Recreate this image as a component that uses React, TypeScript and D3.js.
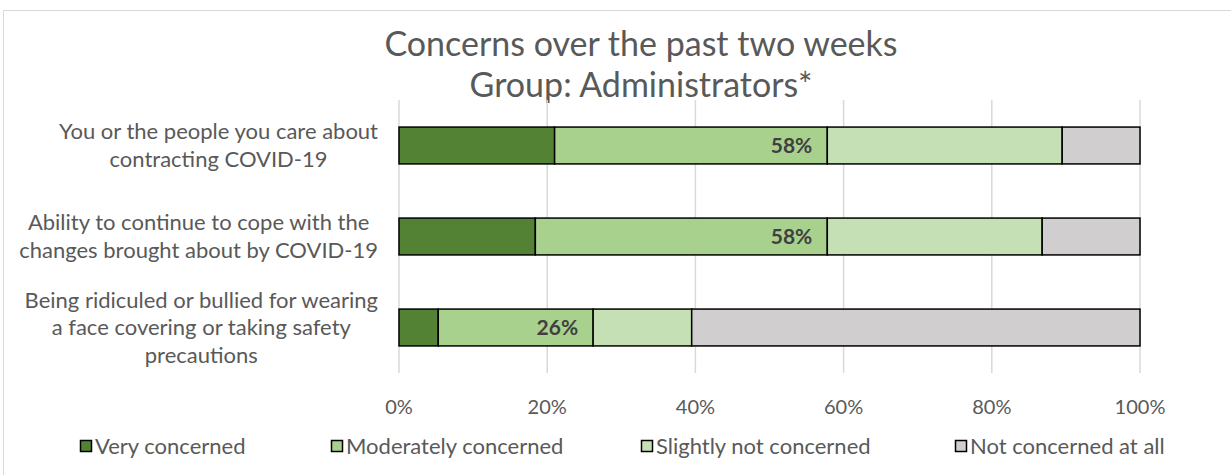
import React from "react";
import * as d3 from "d3";

const categories = [
  ["You or the people you care about", "contracting COVID-19"],
  ["Ability to continue to cope with the", "changes brought about by COVID-19"],
  ["Being ridiculed or bullied for wearing", "a face covering or taking safety", "precautions"],
];
const seriesNames = ["Very concerned", "Moderately concerned", "Slightly not concerned", "Not concerned at all"];
const veryConcerned = [21.0, 18.4, 5.3];
const moderatelyConcerned = [36.8, 39.4, 20.9];
const slightlyNotConcerned = [31.7, 29.0, 13.3];
const notConcerned = [10.5, 13.2, 60.5];
const cumulativeLabels = ["58%", "58%", "26%"];
const xTicks = [0, 20, 40, 60, 80, 100];
const colors = ["#548235", "#A9D18E", "#C5E0B4", "#D0CECE"];

const W = 1231;
const H = 475;
const FONT = "Lato, 'Open Sans', sans-serif";

function CategoryLabel({ lines, cy, right }: { lines: string[]; cy: number; right: number }) {
  const ref = React.useRef<SVGGElement>(null);
  const [shift, setShift] = React.useState(0);
  React.useLayoutEffect(() => {
    if (!ref.current) return;
    const ts = Array.from(ref.current.querySelectorAll("text")) as SVGTextElement[];
    const maxW = d3.max(ts, (t) => t.getComputedTextLength()) || 0;
    setShift(maxW / 2);
  }, []);
  const lh = 27.5;
  return (
    <g ref={ref} transform={`translate(${right - shift},0)`}>
      {lines.map((ln, j) => (
        <text
          key={j}
          x={0}
          y={cy + (j - (lines.length - 1) / 2) * lh}
          dy="0.35em"
          textAnchor="middle"
          fontSize={22}
          fill="#595959"
        >
          {ln}
        </text>
      ))}
    </g>
  );
}

export default function App() {
  const x = d3.scaleLinear().domain([0, 100]).range([399, 1140]);
  const y = d3.scaleBand().domain(["0", "1", "2"]).range([100, 373]).paddingInner(0.595).paddingOuter(0.2975);
  const series = [veryConcerned, moderatelyConcerned, slightlyNotConcerned, notConcerned];
  const rows = categories.map((_, i) => {
    const obj: any = { i: String(i) };
    seriesNames.forEach((s, k) => (obj[s] = series[k][i]));
    return obj;
  });
  const stack = d3.stack<any>().keys(seriesNames)(rows);
  const legendX = [80, 331, 641, 955];

  return (
    <svg width={W} height={H} style={{ position: "absolute", left: 0, top: 0 }} fontFamily={FONT}>
      <rect x={0} y={0} width={W} height={H} fill="#fff" />
      <rect x={3.5} y={10.5} width={W - 2} height={H} fill="#fff" stroke="#D9D9D9" />
      <text x={641} y={56} textAnchor="middle" fontSize={34} fill="#595959">Concerns over the past two weeks</text>
      <text x={641} y={97} textAnchor="middle" fontSize={34} fill="#595959">Group: Administrators*</text>
      {xTicks.map((t) => (
        <line key={t} x1={x(t)} x2={x(t)} y1={100} y2={373} stroke="#D9D9D9" strokeWidth={1.5} />
      ))}
      {stack.map((layer, k) =>
        layer.map((d, i) => (
          <rect
            key={k + "-" + i}
            x={x(d[0])}
            y={y(String(i))!}
            width={x(d[1]) - x(d[0])}
            height={y.bandwidth()}
            fill={colors[k]}
            stroke="#000"
            strokeWidth={1.5}
          />
        ))
      )}
      {stack[1].map((d, i) => (
        <text
          key={"lab" + i}
          x={x(d[1]) - 15}
          y={y(String(i))! + y.bandwidth() / 2}
          dy="0.35em"
          textAnchor="end"
          fontSize={21}
          fontWeight="bold"
          fill="#404040"
        >
          {cumulativeLabels[i]}
        </text>
      ))}
      {categories.map((lines, i) => (
        <CategoryLabel key={i} lines={lines} cy={y(String(i))! + y.bandwidth() / 2} right={378} />
      ))}
      {xTicks.map((t) => (
        <text key={"t" + t} x={x(t)} y={407} dy="0.35em" textAnchor="middle" fontSize={20} fill="#595959">
          {t}%
        </text>
      ))}
      {seriesNames.map((s, k) => (
        <g key={s}>
          <rect x={legendX[k] + 0.5} y={440.5} width={11} height={11} fill={colors[k]} stroke="#000" strokeWidth={1.5} />
          <text x={legendX[k] + 15} y={446} dy="0.35em" fontSize={22} fill="#595959">{s}</text>
        </g>
      ))}
    </svg>
  );
}
